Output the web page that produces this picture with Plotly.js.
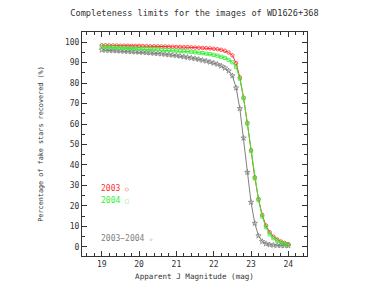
<!DOCTYPE html>
<html><head><meta charset="utf-8">
<script src="https://cdn.plot.ly/plotly-3.0.1.min.js"></script>
<style>html,body{margin:0;padding:0;background:#fff}#c{width:389px;height:289px}</style>
</head><body><div id="c"></div>
<script>
const mags = [19.0,19.1,19.2,19.3,19.4,19.5,19.6,19.7,19.8,19.9,20.0,20.1,20.2,20.3,20.4,20.5,20.6,20.7,20.8,20.9,21.0,21.1,21.2,21.3,21.4,21.5,21.6,21.7,21.8,21.9,22.0,22.1,22.2,22.3,22.4,22.5,22.6,22.7,22.8,22.9,23.0,23.1,23.2,23.3,23.4,23.5,23.6,23.7,23.8,23.9,24.0];
const c2003 = [98.5,98.5,98.4,98.4,98.4,98.3,98.3,98.3,98.2,98.2,98.2,98.1,98.1,98.0,98.0,98.0,97.9,97.9,97.8,97.8,97.7,97.7,97.6,97.6,97.5,97.4,97.3,97.2,97.1,97.0,96.8,96.6,96.3,95.8,95.0,93.6,89.8,82.8,72.9,60.6,47.2,34.0,23.4,15.6,10.4,7.1,5.0,3.6,2.6,1.9,1.3];
const c2004 = [97.7,97.6,97.5,97.5,97.4,97.3,97.3,97.2,97.1,97.0,97.0,96.9,96.8,96.7,96.6,96.5,96.4,96.3,96.2,96.0,95.9,95.8,95.6,95.5,95.3,95.1,94.9,94.7,94.4,94.2,93.8,93.4,92.9,92.3,91.4,90.2,87.9,82.2,72.6,60.2,46.8,33.4,22.9,14.8,9.6,6.1,4.2,3.0,2.1,1.5,1.0];
const cBoth = [96.2,96.1,96.0,95.9,95.8,95.7,95.6,95.5,95.4,95.3,95.2,95.1,94.9,94.8,94.6,94.5,94.3,94.1,93.9,93.7,93.5,93.2,92.9,92.6,92.3,92.0,91.6,91.2,90.8,90.3,89.8,89.2,88.4,87.4,86.0,83.6,77.7,67.6,53.2,36.4,21.8,11.5,5.4,2.6,1.5,1.0,0.8,0.7,0.6,0.6,0.5];
const names = ["2003","2004","2003−2004"];
const syms = ["○","□","☆"];
const colors = ["#ff3030","#33ee33","#808080"];

const F = "DejaVu Sans Mono";
const traces = [
  {x:mags,y:cBoth,mode:"lines+markers",line:{color:colors[2],width:1},marker:{symbol:"star-open",size:4,color:colors[2],line:{width:0.8}}},
  {x:mags,y:c2003,mode:"lines+markers",line:{color:colors[0],width:1},marker:{symbol:"circle-open",size:3.5,color:colors[0],line:{width:0.8}}},
  {x:mags,y:c2004,mode:"lines+markers",line:{color:colors[1],width:1},marker:{symbol:"square-open",size:3.2,color:colors[1],line:{width:0.8}}}
];
const axBase = {showline:true,mirror:"allticks",linecolor:"#333",linewidth:1,ticks:"inside",ticklen:5,tickcolor:"#333",showgrid:false,zeroline:false,tickfont:{family:F,size:8,color:"#333"}};
const lab = i => names[i] + " <span style='font-size:6px'>" + syms[i] + "</span>";
const layout = {
  width:389,height:289,margin:{l:82,r:82,t:32,b:33},
  paper_bgcolor:"#fff",plot_bgcolor:"#fff",showlegend:false,
  title:{text:"Completeness limits for the images of WD1626+368",font:{family:F,size:8.6,color:"#333"},x:0.5,xanchor:"center",y:0.955,yanchor:"middle"},
  xaxis:Object.assign({},axBase,{range:[18.47,24.5],tick0:19,dtick:1,minor:{dtick:0.2,ticks:"inside",ticklen:3,tickcolor:"#333"},
    title:{text:"Apparent J Magnitude (mag)",font:{family:F,size:7.6,color:"#333"},standoff:6}}),
  yaxis:Object.assign({},axBase,{range:[-4.5,105],tick0:0,dtick:10,minor:{dtick:5,ticks:"inside",ticklen:3,tickcolor:"#333"},
    title:{text:"Percentage of fake stars recovered (%)",font:{family:F,size:6.8,color:"#333"},standoff:20}}),
  annotations:[
    {xref:"paper",yref:"y",x:0.075,y:28.5,text:lab(0),showarrow:false,xanchor:"left",font:{family:F,size:8,color:colors[0]}},
    {xref:"paper",yref:"y",x:0.075,y:22.8,text:lab(1),showarrow:false,xanchor:"left",font:{family:F,size:8,color:colors[1]}},
    {xref:"paper",yref:"y",x:0.075,y:3.9,text:lab(2),showarrow:false,xanchor:"left",font:{family:F,size:8,color:colors[2]}}
  ]
};
Plotly.newPlot("c",traces,layout,{staticPlot:true,displayModeBar:false});
</script></body></html>
